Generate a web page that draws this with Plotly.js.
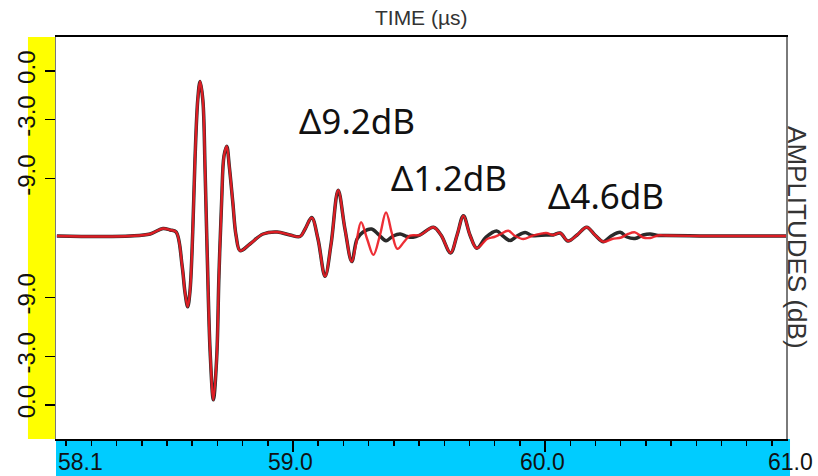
<!DOCTYPE html>
<html>
<head>
<meta charset="utf-8">
<script src="https://cdn.plot.ly/plotly-3.0.1.min.js"></script>
<style>
  html, body { margin: 0; padding: 0; background: #ffffff; }
  #chart { width: 818px; height: 476px; }
</style>
</head>
<body>
<div id="chart"></div>
<script>
// Reference echo (black) — time in µs, linear amplitude (1.0 = 0 dB full scale)
const refTime = [
  58.063, 58.234, 58.353, 58.433, 58.484, 58.512, 58.536, 58.560, 58.571, 58.582,
  58.591, 58.602, 58.611, 58.622, 58.631, 58.642, 58.651, 58.660, 58.671, 58.684,
  58.697, 58.706, 58.717, 58.726, 58.737, 58.747, 58.761, 58.774, 58.790, 58.829,
  58.881, 58.937, 58.988, 59.028, 59.048, 59.074, 59.099, 59.127, 59.151, 59.179,
  59.206, 59.233,
  59.254, 59.278, 59.312, 59.341, 59.369, 59.397, 59.425, 59.452, 59.476,
  59.504, 59.557, 59.587, 59.625, 59.651, 59.676, 59.702, 59.729,
  59.766, 59.808, 59.833, 59.861, 59.889, 59.921, 59.948, 60.004,
  60.032, 60.060, 60.091, 60.127, 60.165, 60.198, 60.231,
  60.262, 60.298, 60.325, 60.357, 60.389, 60.417, 60.448,
  60.480, 60.615, 60.774, 60.956
];
const refAmp = [
  0.012, 0.009, 0.012, 0.024, 0.057, 0.048, 0.036, -0.167, -0.321, -0.411,
  -0.321, 0.036, 0.470, 0.827, 0.936, 0.827, 0.411, -0.125, -0.679, -0.968,
  -0.720, -0.226, 0.232, 0.490, 0.549, 0.430, 0.214, 0.014, -0.076, -0.036,
  0.024, 0.036, 0.018, 0.009, 0.054, 0.122, -0.006, -0.229, -0.036, 0.286,
  0.054, -0.141,
  -0.006, 0.036, 0.054, 0.018, -0.016, 0.012, 0.024, 0.009, 0.004,
  0.018, 0.064, 0.018, -0.089, 0.018, 0.133, 0.018, -0.061,
  0.006, 0.042, 0.012, -0.015, 0.012, 0.033, 0.015, 0.018,
  0.018, 0.030, -0.018, 0.018, 0.064, 0.018, -0.022,
  0.012, 0.034, 0.006, -0.003, 0.018, 0.024, 0.015,
  0.015, 0.012, 0.012, 0.012
];

// Measured echo (red)
const testTime = [
  58.063, 58.234, 58.353, 58.433, 58.484, 58.512, 58.536, 58.560, 58.571, 58.582,
  58.591, 58.602, 58.611, 58.622, 58.631, 58.642, 58.651, 58.660, 58.671, 58.684,
  58.697, 58.706, 58.717, 58.726, 58.737, 58.747, 58.761, 58.774, 58.790, 58.829,
  58.881, 58.937, 58.988, 59.028, 59.048, 59.074, 59.099, 59.127, 59.151, 59.179,
  59.206, 59.233,
  59.250, 59.270, 59.294, 59.319, 59.345, 59.369, 59.393, 59.414, 59.440, 59.464,
  59.504, 59.557, 59.587, 59.625, 59.651, 59.676, 59.702, 59.729,
  59.770, 59.798, 59.821, 59.854, 59.881, 59.914, 59.948, 60.004,
  60.032, 60.060, 60.091, 60.127, 60.165, 60.198, 60.231,
  60.266, 60.302, 60.329, 60.357, 60.389, 60.417, 60.448,
  60.480, 60.615, 60.774, 60.956
];
const testAmp = [
  0.012, 0.009, 0.012, 0.024, 0.057, 0.048, 0.036, -0.167, -0.321, -0.411,
  -0.321, 0.036, 0.470, 0.827, 0.936, 0.827, 0.411, -0.125, -0.679, -0.968,
  -0.720, -0.226, 0.232, 0.490, 0.549, 0.430, 0.214, 0.014, -0.076, -0.036,
  0.024, 0.036, 0.018, 0.009, 0.054, 0.122, -0.006, -0.229, -0.036, 0.286,
  0.054, -0.141,
  -0.036, 0.095, -0.006, -0.101, 0.018, 0.153, 0.024, -0.065, -0.024, 0.014,
  0.018, 0.064, 0.018, -0.089, 0.018, 0.133, 0.018, -0.061,
  -0.006, 0.006, 0.021, 0.043, 0.012, -0.006, 0.012, 0.030,
  0.018, 0.030, -0.018, 0.018, 0.064, 0.018, -0.022,
  -0.006, 0.003, 0.024, 0.034, 0.003, 0.000, 0.015,
  0.015, 0.012, 0.012, 0.012
];

// Amplitude gate: dB levels and their linear positions
const dbLevels = [0, -3, -9, -9, -3, 0];
const dbLinear = [1.0, 0.708, 0.355, -0.355, -0.708, -1.0];
const dbTickText = ['0.0', '-3.0', '-9.0', '-9.0', '-3.0', '0.0'];

// Time axis
const timeMajor = [59, 60];
const timeMajorText = ['59.0', '60.0'];
const timeStartText = '58.1';
const timeEndText = '61.0';

// Attenuation notes
const noteText = ['Δ9.2dB', 'Δ1.2dB', 'Δ4.6dB'];
const noteTime = [59.254, 59.619, 60.242];
const noteAmp = [0.702, 0.363, 0.256];

const sans = 'Liberation Sans, Arial, sans-serif';
const tickFont = { family: sans, size: 23, color: '#111111' };
const labelY = -0.057;   // centre line of the time labels, in paper units

const traces = [
  {
    x: refTime, y: refAmp, type: 'scatter', mode: 'lines',
    line: { color: '#2a2a2a', width: 3.5, shape: 'spline', smoothing: 1 },
    hoverinfo: 'skip', showlegend: false
  },
  {
    x: testTime, y: testAmp, type: 'scatter', mode: 'lines',
    line: { color: '#ec1c24', width: 2.4, shape: 'spline', smoothing: 1 },
    opacity: 0.92,
    hoverinfo: 'skip', showlegend: false
  }
];

const annotations = noteText.map((t, i) => ({
  text: t, x: noteTime[i], y: noteAmp[i], xref: 'x', yref: 'y',
  showarrow: false, xanchor: 'center', yanchor: 'middle',
  font: { family: 'Noto Sans, Open Sans, sans-serif', size: 35, color: '#111111' }
}));

// time labels along the strip
timeMajor.forEach((v, i) => annotations.push({
  text: timeMajorText[i], xref: 'x', yref: 'paper', x: v, y: labelY,
  xanchor: 'center', yanchor: 'middle', xshift: -3, showarrow: false, font: tickFont
}));

annotations.push(
  {
    text: timeStartText, xref: 'paper', yref: 'paper', x: 0, y: labelY,
    xanchor: 'left', yanchor: 'middle', showarrow: false, font: tickFont
  },
  {
    text: timeEndText, xref: 'paper', yref: 'paper', x: 1.006, y: labelY,
    xanchor: 'center', yanchor: 'middle', showarrow: false, font: tickFont
  },
  {
    text: 'AMPLITUDES (dB)', xref: 'paper', yref: 'paper', x: 1.015, y: 0.5,
    xanchor: 'center', yanchor: 'middle', textangle: 90, showarrow: false,
    font: { family: sans, size: 26, color: '#333333' }
  }
);

const layout = {
  width: 818, height: 476,
  margin: { l: 56, r: 32, t: 37, b: 37, pad: 0 },
  paper_bgcolor: '#ffffff', plot_bgcolor: '#ffffff',
  title: {
    text: 'TIME (µs)', x: 0.515, xanchor: 'center', y: 0.962, yanchor: 'middle',
    xref: 'container', yref: 'container',
    font: { family: sans, size: 21, color: '#333333' }
  },
  xaxis: {
    range: [58.0595, 60.956],
    showgrid: false, zeroline: false,
    showline: true, linecolor: '#000000', linewidth: 2, mirror: true,
    ticks: 'outside', ticklen: 11, tickwidth: 1.5, tickcolor: '#000000',
    tickmode: 'array', tickvals: timeMajor, showticklabels: false,
    minor: { tick0: 58.1, dtick: 0.1, ticks: 'outside', ticklen: 5, tickwidth: 1.5, tickcolor: '#000000', showgrid: false }
  },
  yaxis: {
    range: [-1.202, 1.202],
    showgrid: false, zeroline: false,
    showline: true, linecolor: '#7a7a7a', linewidth: 1.5, mirror: true,
    ticks: 'outside', ticklen: 10, tickwidth: 1.5, tickcolor: '#000000',
    tickmode: 'array', tickvals: dbLinear, ticktext: dbTickText,
    tickangle: -90,
    tickfont: { family: sans, size: 24, color: '#111111' }
  },
  shapes: [
    // amplitude gate strip
    { type: 'rect', xref: 'paper', yref: 'paper', x0: -0.0384, x1: 0, y0: 0, y1: 1,
      fillcolor: '#ffff00', line: { width: 0 }, layer: 'below' },
    // time strip
    { type: 'rect', xref: 'paper', yref: 'paper', x0: 0, x1: 1.0055, y0: -0.12, y1: 0,
      fillcolor: '#00ccff', line: { width: 0 }, layer: 'below' }
  ],
  annotations: annotations
};

Plotly.newPlot('chart', traces, layout, { displayModeBar: false, staticPlot: true });
</script>
</body>
</html>
